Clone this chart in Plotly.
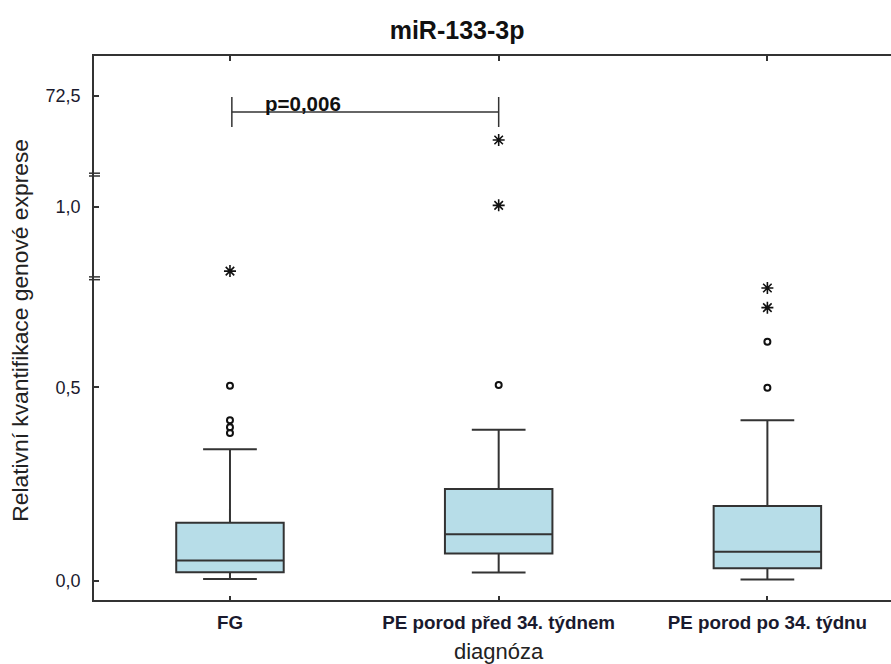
import plotly.graph_objects as go

# ---------------- data ----------------
categories = ["FG", "PE porod před 34. týdnem", "PE porod po 34. týdnu"]
lower_fence = [0.004, 0.021, 0.003]
q1 = [0.022, 0.070, 0.032]
median = [0.052, 0.120, 0.075]
q3 = [0.150, 0.237, 0.193]
upper_fence = [0.340, 0.390, 0.415]

# outliers (o) in lower segment
out_cat = ["FG", "FG", "FG", "FG", "PE porod před 34. týdnem", "PE porod po 34. týdnu", "PE porod po 34. týdnu"]
out_val = [0.504, 0.415, 0.397, 0.382, 0.506, 0.618, 0.499]
# extremes (*) in lower segment
ext_low_cat = ["PE porod po 34. týdnu", "PE porod po 34. týdnu"]
ext_low_val = [0.757, 0.706]
# extremes (*) in middle segment
ext_mid_cat = ["FG", "PE porod před 34. týdnem"]
ext_mid_val = [0.833, 1.003]
# extremes (*) in upper segment
ext_up_cat = ["PE porod před 34. týdnem"]
ext_up_val = [37.5]

# axis segments (broken axis)
seg_low_range = [-0.05, 0.782]
seg_mid_range = [0.8144, 1.0825]
seg_up_range = [10, 104.3]
seg_low_ticks = [0.0, 0.5]
seg_low_text = ["0,0", "0,5"]
seg_mid_ticks = [1.0]
seg_mid_text = ["1,0"]
seg_up_ticks = [72.5]
seg_up_text = ["72,5"]
break_low = 0.5914
break_up = 0.782

# significance bracket
p_text = "p=0,006"
bracket_x = [0.007, 1.0]
bracket_y = 59.8
bracket_tip = [47.9, 71.7]

# ---------------- style ----------------
FONT = "Liberation Sans, Arial, sans-serif"
LINE = "#333333"
FILL = "#b7dde8"
TXT = "#1a1a2e"

fig = go.Figure()

for i, c in enumerate(categories):
    fig.add_trace(go.Box(
        x=[c], q1=[q1[i]], median=[median[i]], q3=[q3[i]],
        lowerfence=[lower_fence[i]], upperfence=[upper_fence[i]],
        width=0.4, whiskerwidth=0.5, fillcolor=FILL,
        line=dict(color=LINE, width=2), boxpoints=False,
        xaxis="x", yaxis="y", showlegend=False, hoverinfo="skip"))

fig.add_trace(go.Scatter(x=out_cat, y=out_val, mode="markers", xaxis="x", yaxis="y",
                         marker=dict(symbol="circle-open", size=6, color="#111", line=dict(width=2)),
                         showlegend=False))
fig.add_trace(go.Scatter(x=ext_low_cat, y=ext_low_val, mode="markers", xaxis="x", yaxis="y",
                         marker=dict(symbol="asterisk-open", size=10, color="#111", line=dict(width=1.6)),
                         showlegend=False))
fig.add_trace(go.Scatter(x=ext_mid_cat, y=ext_mid_val, mode="markers", xaxis="x2", yaxis="y2",
                         marker=dict(symbol="asterisk-open", size=10, color="#111", line=dict(width=1.6)),
                         showlegend=False))
fig.add_trace(go.Scatter(x=ext_up_cat, y=ext_up_val, mode="markers", xaxis="x3", yaxis="y3",
                         marker=dict(symbol="asterisk-open", size=10, color="#111", line=dict(width=1.6)),
                         showlegend=False))

xrange = [-0.506, 2.46]
common_x = dict(type="category", categoryorder="array", categoryarray=categories,
                range=xrange, showgrid=False, zeroline=False, fixedrange=True)

ytick_font = dict(family=FONT, size=18, color=TXT)
common_y = dict(showgrid=False, zeroline=False, showline=True, linecolor=LINE, linewidth=1.5,
                ticks="inside", ticklen=5, tickwidth=1.5, tickcolor=LINE,
                tickfont=ytick_font, ticklabelstandoff=8)

fig.update_layout(
    width=891, height=664,
    margin=dict(l=94, r=0, t=56, b=64),
    paper_bgcolor="white", plot_bgcolor="white",
    title=dict(text="<b>miR-133-3p</b>", font=dict(family=FONT, size=25, color="#111"),
               x=0.513, xref="container", xanchor="center", y=1 - 30 / 664, yanchor="middle"),
    xaxis=dict(**common_x, anchor="y", showline=True, linecolor=LINE, linewidth=1.5,
               ticks="inside", ticklen=4, tickwidth=1.5, tickcolor=LINE,
               tickfont=dict(family=FONT, size=18.8, color=TXT), ticklabelstandoff=5,
               tickprefix="<b>", ticksuffix="</b>"),
    xaxis2=dict(**common_x, anchor="y2", matches="x", showline=False, showticklabels=False, ticks=""),
    xaxis3=dict(**common_x, anchor="y3", matches="x", side="top", showline=True, linecolor=LINE,
                linewidth=1.5, ticks="inside", ticklen=5, tickwidth=1.5, tickcolor=LINE,
                showticklabels=False),
    yaxis=dict(**common_y, domain=[0, break_low], range=seg_low_range, anchor="x",
               tickvals=seg_low_ticks, ticktext=seg_low_text),
    yaxis2=dict(**common_y, domain=[break_low, break_up], range=seg_mid_range, anchor="x2",
                tickvals=seg_mid_ticks, ticktext=seg_mid_text),
    yaxis3=dict(**common_y, domain=[break_up, 1], range=seg_up_range, anchor="x3",
                tickvals=seg_up_ticks, ticktext=seg_up_text),
)

# axis break marks
for yb in (break_low, break_up):
    for dy in (-1.4, 1.4):
        fig.add_shape(type="line", xref="paper", yref="paper",
                      xsizemode="pixel", xanchor=0, x0=-5, x1=6,
                      ysizemode="pixel", yanchor=yb, y0=dy, y1=dy,
                      line=dict(color=LINE, width=1.5))

# significance bracket
fig.add_shape(type="line", xref="x3", yref="y3", x0=bracket_x[0], x1=bracket_x[1],
              y0=bracket_y, y1=bracket_y, line=dict(color=LINE, width=1.5))
for bx in bracket_x:
    fig.add_shape(type="line", xref="x3", yref="y3", x0=bx, x1=bx,
                  y0=bracket_tip[0], y1=bracket_tip[1], line=dict(color=LINE, width=1.5))
fig.add_annotation(xref="x3", yref="y3", x=0.123, y=66.9, text="<b>" + p_text + "</b>",
                   showarrow=False, xanchor="left", yanchor="middle",
                   font=dict(family=FONT, size=20.5, color="#111"))

# axis titles
fig.add_annotation(xref="x", yref="paper", x=1, y=0, yshift=-51, text="diagnóza",
                   showarrow=False, xanchor="center", yanchor="middle",
                   font=dict(family=FONT, size=22, color="#222"))
fig.add_annotation(xref="paper", yref="paper", x=0, xshift=-74, y=0.495,
                   text="Relativní kvantifikace genové exprese", textangle=-90,
                   showarrow=False, xanchor="center", yanchor="middle",
                   font=dict(family=FONT, size=22.8, color="#222"))

fig.write_html("out.html")
